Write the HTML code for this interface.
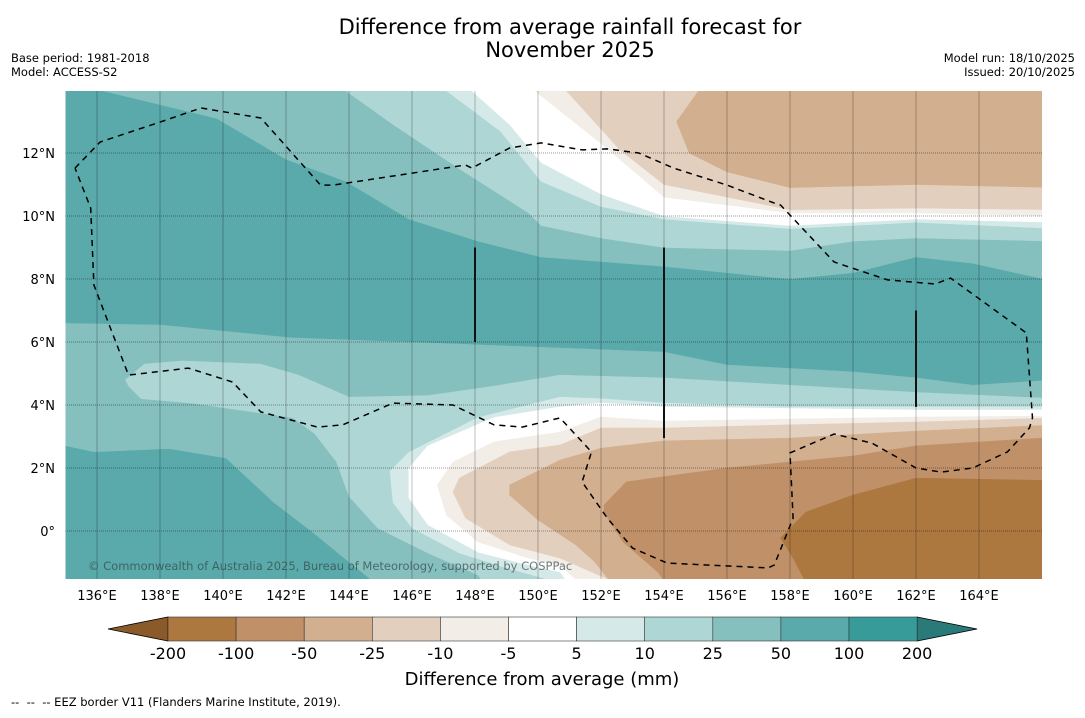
<!DOCTYPE html>
<html><head><meta charset="utf-8"><style>
body{margin:0;background:#fff;width:1085px;height:713px;overflow:hidden;font-family:"Liberation Sans","DejaVu Sans",sans-serif}
svg text{font-family:"DejaVu Sans","Liberation Sans",sans-serif}
</style></head><body>
<svg id="chart" width="1085" height="713" xmlns="http://www.w3.org/2000/svg">
<text x="570" y="34" text-anchor="middle" font-size="21">Difference from average rainfall forecast for</text>
<text x="570" y="57" text-anchor="middle" font-size="21">November 2025</text>
<text x="11" y="62" font-size="11.5">Base period: 1981-2018</text>
<text x="11" y="76" font-size="11.5">Model: ACCESS-S2</text>
<text x="1075" y="62" font-size="11.5" text-anchor="end">Model run: 18/10/2025</text>
<text x="1075" y="76" font-size="11.5" text-anchor="end">Issued: 20/10/2025</text>
<defs><clipPath id="mapclip"><rect x="65.5" y="91" width="976.5" height="488"/></clipPath></defs>
<g id="map" clip-path="url(#mapclip)"></g>
<g id="axes"></g>
<g id="cbar"></g>
<text x="542" y="685" text-anchor="middle" font-size="18">Difference from average (mm)</text>
<text x="11" y="706" font-size="11.5" xml:space="preserve">--  --  -- EEZ border V11 (Flanders Marine Institute, 2019).</text>
</svg>
<script>
const NS='http://www.w3.org/2000/svg';
const levels=['-200','-100','-50','-25','-10','-5','5','10','25','50','100','200'];
const bandColors=['#ad7840','#c09169','#d2af8f','#e3cfbe','#f2ede7','#ffffff','#d5eae8','#aed6d5','#85bfbe','#5aaaab','#379b9a'];
const lowColor='#8b5a2b', highColor='#297a79';
const lonTicks=[136,138,140,142,144,146,148,150,152,154,156,158,160,162,164];
const latTicks=[0,2,4,6,8,10,12];
const topC25Lon=[136.2,139.8,142.0,143.9,145.9,148.1,150.1,154.0,156.0,158.0,160.0,162.0,163.8,166.5];
const topC25Lat=[13.97,13.1,11.8,11.1,9.9,9.2,8.7,8.4,8.2,8.0,8.2,8.7,8.5,7.9];
const topC10Lon=[143.9,145.4,147.5,149.7,150.1,152.0,154.0,158.0,160.0,162.0,166.5];
const topC10Lat=[13.97,12.9,11.5,10.1,9.7,9.3,9.0,8.9,9.2,9.3,9.2];
const topC5Lon=[147.1,148.8,150.1,152.0,154.0,158.0,162.0,166.5];
const topC5Lat=[13.97,12.7,11.1,10.3,9.9,9.6,9.8,9.6];
const topWLon=[147.9,149.1,150.1,152.0,154.0,158.0,162.0,166.5];
const topWLat=[13.97,12.9,11.7,10.7,10.0,9.7,9.9,9.8];
const topM10Lon=[149.9,152.0,154.0,158.0,162.0,166.5];
const topM10Lat=[13.97,12.3,10.6,10.1,10.1,10.0];
const topM25Lon=[150.9,152.6,154.0,158.0,162.0,166.5];
const topM25Lat=[13.97,12.1,11.0,10.2,10.25,10.2];
const topM50Lon=[155.1,154.4,154.8,156.0,158.0,162.0,166.5];
const topM50Lat=[13.97,13.0,12.0,11.4,10.9,11.0,10.9];
const low25Lon=[134.5,138.0,142.2,146.5,150.7,154.0,156.0,160.0,162.0,163.8,166.5,166.5,134.5];
const low25Lat=[6.6,6.54,6.13,5.97,5.81,5.68,5.27,5.05,4.86,4.63,4.8,-2,-2];
const low50Lon=[134.5,135.9,138.3,140.1,141.6,142.9,144.0,145.0,134.5];
const low50Lat=[2.8,2.5,2.6,2.3,0.9,-0.1,-1.0,-1.8,-2];
const low10Lon=[136.9,137.5,138.7,141.2,142.4,144.0,146.5,148.6,150.7,154.0,158.0,162.0,166.5,166.5,148.5,148.1,146.5,144.9,144.0,143.6,142.9,142.2,139.0,137.4,137.0];
const low10Lat=[4.8,5.3,5.4,5.3,4.95,4.25,4.3,4.6,4.95,4.86,4.63,4.4,4.2,-2,-2,-1.4,-0.7,0.1,1.1,2.2,3.1,3.6,4.06,4.2,4.6];
const low5Lon=[166.5,162,158,154,152,150.7,148.1,145.9,145.3,145.4,146.0,147.5,149.1,150.2,150.5,166.5];
const low5Lat=[3.94,3.94,3.94,4.06,4.2,4.25,3.6,2.5,1.9,0.9,0.1,-0.7,-1.2,-1.5,-2,-2];
const lowWLon=[166.5,162,154,152,150.7,148.6,146.5,145.9,145.9,146.5,148.1,149.7,150.7,151.2,166.5];
const lowWLat=[3.84,3.84,3.94,4.06,3.94,3.6,2.7,2.0,1.05,0.2,-0.67,-1.08,-1.3,-2,-2];
const lowM10Lon=[166.5,162,154,152,150.7,148.6,147.3,146.8,147.1,148.1,149.7,150.7,151.7,166.5];
const lowM10Lat=[3.65,3.62,3.49,3.62,3.14,2.83,2.19,1.46,0.5,-0.35,-0.86,-1.08,-2,-2];
const lowM25Lon=[166.5,162,158,154,152,150.7,149.1,147.5,147.3,147.7,149.1,150.7,152.2,152.5,166.5];
const lowM25Lat=[3.59,3.46,3.37,3.27,3.27,2.73,2.51,1.68,1.24,0.41,-0.44,-0.86,-1.52,-2,-2];
const lowM50Lon=[166.5,162,158,154,152,150.7,149.1,149.1,150.0,151.2,151.8,152.6,166.5];
const lowM50Lat=[3.37,3.17,2.95,2.86,2.63,2.25,1.46,1.14,0.35,-0.44,-0.98,-2,-2];
const lowM100Lon=[166.5,162,160,156,152.8,152.1,152.1,152.7,153.8,154.3,166.5];
const lowM100Lat=[2.98,2.7,2.38,2.0,1.56,0.83,0.6,-0.35,-1.3,-2,-2];
const lowM200Lon=[166.5,162,160,158.5,157.7,158.1,158.7,166.5];
const lowM200Lat=[1.6,1.68,1.14,0.6,-0.22,-0.86,-2,-2];
const eezLon=[135.3,136.1,138.0,139.3,141.2,143.1,143.5,147.7,147.9,149.1,150.1,151.4,152.2,153.2,154.3,156.0,157.5,157.7,159.4,161.1,162.6,163.1,165.5,165.7,165.6,164.9,163.8,162.8,162.0,160.6,159.4,158.0,158.1,157.5,157.3,154.1,153.0,152.2,151.4,151.7,150.7,149.5,148.6,147.3,145.4,143.8,143.0,141.2,140.3,138.9,137.0,135.9,135.8,135.3];
const eezLat=[11.52,12.35,12.98,13.43,13.11,10.98,10.98,11.62,11.52,12.16,12.32,12.1,12.13,12.0,11.52,10.98,10.41,10.35,8.54,7.97,7.84,8.03,6.29,3.59,3.27,2.51,2.0,1.87,2.0,2.79,3.08,2.48,0.41,-1.08,-1.17,-1.02,-0.54,0.41,1.56,2.51,3.59,3.3,3.37,4.0,4.06,3.37,3.3,3.78,4.73,5.17,4.95,7.81,10.25,11.52];
const borderLon=[148,154,162];
const borderLatTop=[9.0,9.0,7.0];
const borderLatBot=[6.0,2.95,3.94];

const X=lon=>65.5+(lon-135)*31.5;
const Y=lat=>531-lat*31.5;
const map=document.getElementById('map');
function el(tag,attrs,parent){const e=document.createElementNS(NS,tag);for(const k in attrs)e.setAttribute(k,attrs[k]);parent.appendChild(e);return e;}
function topPoly(lons,lats){const p=lons.map((l,i)=>[X(l),Y(lats[i])]);p.push([X(166.5),Y(14.5)]);p.push([X(lons[0]),Y(14.5)]);return p;}
function poly(lons,lats){return lons.map((l,i)=>[X(l),Y(lats[i])]);}
function drawPoly(pts,color,name){const e=el('polygon',{points:pts.map(p=>p[0].toFixed(1)+','+p[1].toFixed(1)).join(' '),fill:color,stroke:color,'stroke-width':0.5},map);

}
const bg=el('rect',{x:60,y:85,width:990,height:500,fill:bandColors[9]},map);


drawPoly(topPoly(topC25Lon,topC25Lat),bandColors[8],'contour-north-25');
drawPoly(topPoly(topC10Lon,topC10Lat),bandColors[7],'contour-north-10');
drawPoly(topPoly(topC5Lon,topC5Lat),bandColors[6],'contour-north-5');
drawPoly(topPoly(topWLon,topWLat),bandColors[5],'contour-north-neutral');
drawPoly(topPoly(topM10Lon,topM10Lat),bandColors[4],'contour-north-minus10');
drawPoly(topPoly(topM25Lon,topM25Lat),bandColors[3],'contour-north-minus25');
drawPoly(topPoly(topM50Lon,topM50Lat),bandColors[2],'contour-north-minus50');
drawPoly(poly(low25Lon,low25Lat),bandColors[8],'contour-south-25');
drawPoly(poly(low50Lon,low50Lat),bandColors[9],'contour-southwest-50');
drawPoly(poly(low10Lon,low10Lat),bandColors[7],'contour-south-10');
drawPoly(poly(low5Lon,low5Lat),bandColors[6],'contour-south-5');
drawPoly(poly(lowWLon,lowWLat),bandColors[5],'contour-south-neutral');
drawPoly(poly(lowM10Lon,lowM10Lat),bandColors[4],'contour-south-minus10');
drawPoly(poly(lowM25Lon,lowM25Lat),bandColors[3],'contour-south-minus25');
drawPoly(poly(lowM50Lon,lowM50Lat),bandColors[2],'contour-south-minus50');
drawPoly(poly(lowM100Lon,lowM100Lat),bandColors[1],'contour-south-minus100');
drawPoly(poly(lowM200Lon,lowM200Lat),bandColors[0],'contour-south-minus200');
lonTicks.forEach(l=>{const g=el('line',{x1:X(l),x2:X(l),y1:91,y2:579,stroke:'rgba(0,0,0,0.25)','stroke-width':1},map);

});
latTicks.forEach(l=>{const g=el('line',{x1:65,x2:1042,y1:Y(l),y2:Y(l),stroke:'rgba(0,0,0,0.4)','stroke-width':1,'stroke-dasharray':'1,1'},map);

});
const ez=el('polyline',{points:eezLon.map((l,i)=>X(l).toFixed(1)+','+Y(eezLat[i]).toFixed(1)).join(' '),fill:'none',stroke:'#000','stroke-width':1.5,'stroke-dasharray':'6,5'},map);


borderLon.forEach((l,i)=>{const b=el('line',{x1:X(l),x2:X(l),y1:Y(borderLatTop[i]),y2:Y(borderLatBot[i]),stroke:'#111','stroke-width':2},map);

});
const cp=el('text',{x:88,y:570,'font-size':11.5,fill:'rgba(50,70,70,0.7)'},map);cp.textContent='© Commonwealth of Australia 2025, Bureau of Meteorology, supported by COSPPac';


const axes=document.getElementById('axes');
lonTicks.forEach(l=>{const t=el('text',{x:X(l),y:600,'text-anchor':'middle','font-size':13},axes);t.textContent=l+'°E';

});
latTicks.forEach(l=>{const t=el('text',{x:55,y:Y(l)+5,'text-anchor':'end','font-size':13},axes);t.textContent=l===0?'0°':l+'°N';

});
const cb=document.getElementById('cbar');
const cx0=168,cw=68.1,cy=617,ch=24;
const lt=el('polygon',{points:`108,${cy+ch/2} ${cx0},${cy} ${cx0},${cy+ch}`,fill:lowColor,stroke:'#000','stroke-width':0.8},cb);


const xe=cx0+cw*bandColors.length;
const rt=el('polygon',{points:`${xe},${cy} ${xe+60},${cy+ch/2} ${xe},${cy+ch}`,fill:highColor,stroke:'#000','stroke-width':0.8},cb);


bandColors.forEach((c,i)=>{const r=el('rect',{x:cx0+cw*i,y:cy,width:cw,height:ch,fill:c,stroke:'#333','stroke-width':0.6},cb);

});
levels.forEach((v,i)=>{const t=el('text',{x:cx0+cw*i,y:659,'text-anchor':'middle','font-size':16},cb);t.textContent=v;

});
</script>
</body></html>
